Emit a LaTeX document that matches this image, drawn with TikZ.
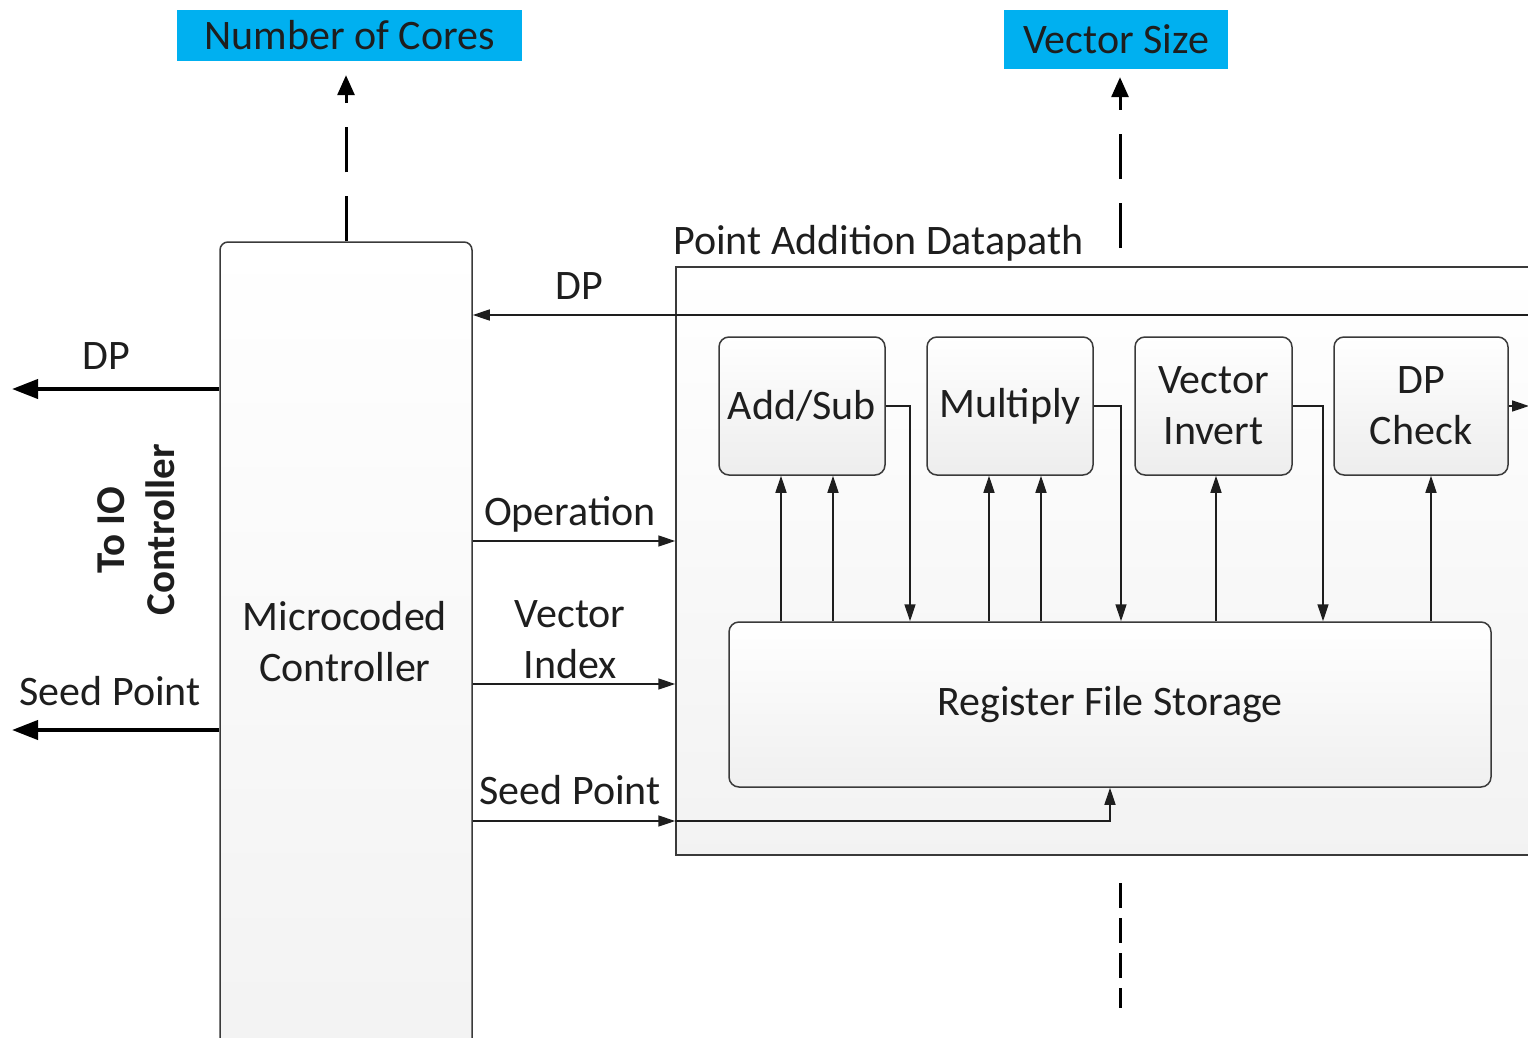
\documentclass[tikz,border=0pt]{standalone}
\usepackage{fontspec}
\setmainfont{Carlito}
\usetikzlibrary{arrows.meta,calc}
\definecolor{cyanbox}{HTML}{00B0F0}
\definecolor{edge}{HTML}{3A3A3A}
\definecolor{ink}{HTML}{1E1E1E}
\begin{document}
\begin{tikzpicture}[x=1pt,y=-1pt,
  font=\fontsize{42}{51}\selectfont,
  base/.style={draw=edge, line width=1.5pt, text=ink, inner sep=0pt, align=center},
  unitbox/.style={base, rounded corners=10pt, top color=white, bottom color=gray!14, minimum height=138pt},
  tag/.style={fill=cyanbox, text=ink, inner sep=0pt, align=center},
  arr/.style={draw=ink, line width=1.5pt, -{Triangle[length=17pt,width=11pt]}},
  fat/.style={draw=black, line width=4pt, -{Triangle[length=26pt,width=19pt]}},
  dasharr/.style={draw=black, line width=3pt, dash pattern=on 45pt off 24pt, -{Triangle[length=20pt,width=17pt]}},
  lbl/.style={text=ink, inner sep=0pt, align=center}
]
\clip (0,0) rectangle (1528,1038);

% parameter tags
\node[tag, minimum width=345pt, minimum height=51pt] (cores) at (349.5,35.5) {Number of Cores};
\node[tag, minimum width=224pt, minimum height=59pt] (vsize) at (1116,39.5) {Vector Size};

% datapath frame
\node[base, top color=white, bottom color=gray!10, minimum width=870pt, minimum height=588pt] (dp) at (1111,561) {};
\node[lbl, anchor=base west] (dptitle) at (673,254) {Point Addition Datapath};

% controller
\node[base, rounded corners=8pt, top color=white, bottom color=gray!10, minimum width=252pt, minimum height=820pt] (mc) at (346,652) {};
\node[lbl] (mctext) at (345,642) {Microcoded\\Controller};

% functional units
\node[unitbox, minimum width=166pt] (addsub) at (802,406) {Add/Sub};
\node[unitbox, minimum width=166pt] (mult) at (1010,406) {Multiply};
\node[unitbox, minimum width=157pt] (vinv) at (1213.5,406) {Vector\\Invert};
\node[unitbox, minimum width=174pt] (dpchk) at (1421,406) {DP\\Check};
\node[base, rounded corners=10pt, top color=white, bottom color=gray!12, minimum width=762pt, minimum height=165pt] (rf) at (1110,704.5) {Register File Storage};

% signal labels
\node[lbl] (ldp) at (579,286) {DP};
\node[lbl] (lop) at (570,514) {Operation};
\node[lbl] (lvi) at (570,640) {Vector\\Index};
\node[lbl] (lsp) at (570,790) {Seed Point};
\node[lbl] (ldpl) at (106,356) {DP};
\node[lbl] (lspl) at (110,691) {Seed Point};
\node[lbl, font=\fontsize{41}{50}\selectfont\bfseries, rotate=90] (toio) at (136,530) {To IO\\Controller};

% DP back to the controller
\coordinate (dpin) at (1540,315);
\draw[arr] (dpin) -- (mc.east |- dpin);

% controller outputs into the datapath
\draw[arr] (mc.east |- 0,541) -- (dp.west |- 0,541);
\draw[arr] (mc.east |- 0,684) -- (dp.west |- 0,684);
\draw[arr] (mc.east |- 0,821) -- (dp.west |- 0,821);
\draw[arr] (dp.west |- 0,821) -| (rf.south -| 1110,0);

% register file to units
\foreach \x/\u in {781/addsub, 833/addsub, 989/mult, 1041/mult, 1216/vinv, 1431/dpchk}
  \draw[arr] (rf.north -| \x,0) -- (\u.south -| \x,0);

% unit results back to the register file
\draw[arr] (addsub.east) -| (rf.north -| 910,0);
\draw[arr] (mult.east) -| (rf.north -| 1121,0);
\draw[arr] (vinv.east) -| (rf.north -| 1323,0);
\coordinate (dpout) at (1529,406);
\draw[arr] (dpchk.east) -- (dpout);

% links to the IO controller
\coordinate (dpio) at (12,389);
\draw[fat] (mc.west |- dpio) -- (dpio);
\coordinate (spio) at (12,730);
\draw[fat] (mc.west |- spio) -- (spio);

% configuration parameters
\draw[dasharr, shorten >=14pt] (mc.north) -- (mc.north |- cores.south);
\coordinate (vsfoot) at (1120,248);
\draw[dasharr, shorten >=8pt] (vsfoot) -- (vsfoot |- vsize.south);
\coordinate (btop) at (1120,883);
\coordinate (bbot) at (1120,1008);
\draw[black, line width=3pt, dash pattern=on 25pt off 10pt] (btop) -- (bbot);
\end{tikzpicture}
\end{document}
